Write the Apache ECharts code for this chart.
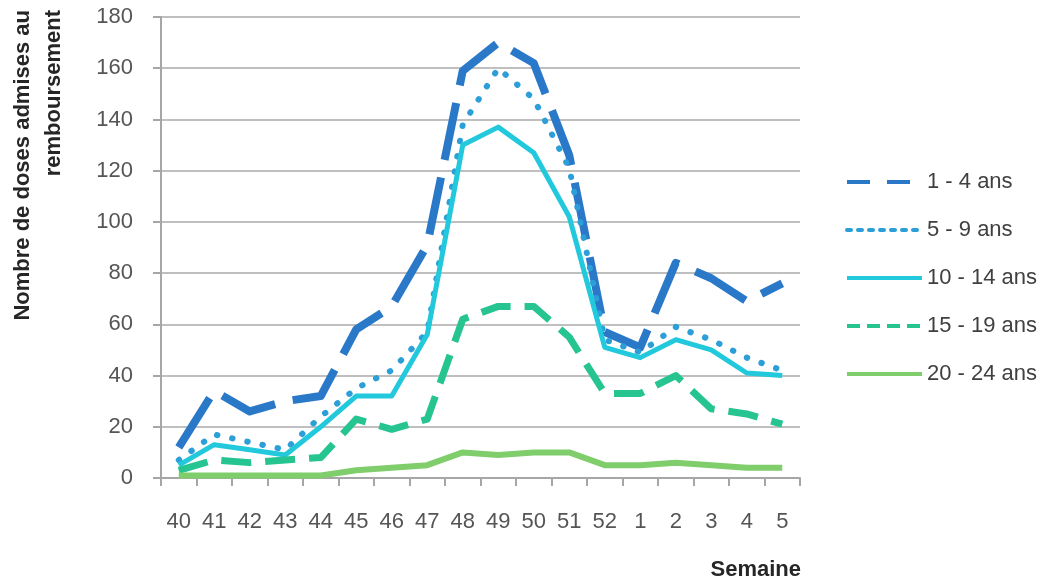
<!DOCTYPE html>
<html>
<head>
<meta charset="utf-8">
<script src="https://cdn.jsdelivr.net/npm/echarts@6/dist/echarts.min.js"></script>
<style>
html,body{margin:0;padding:0;background:#fff;}
#chart{width:1059px;height:584px;}
</style>
</head>
<body>
<div id="chart"></div>
<script>
var weeks = ['40','41','42','43','44','45','46','47','48','49','50','51','52','1','2','3','4','5'];
var seriesNames = ['1 - 4 ans','5 - 9 ans','10 - 14 ans','15 - 19 ans','20 - 24 ans'];
var ages1to4   = [12, 34, 26, 30, 32, 58, 67, 91, 159, 170, 162, 126, 57, 51, 84, 78, 69, 76];
var ages5to9   = [7, 17, 14, 11, 24, 35, 42, 57, 138, 160, 148, 121, 54, 49, 59, 54, 47, 42];
var ages10to14 = [5, 13, 11, 9, 20, 32, 32, 56, 130, 137, 127, 102, 51, 47, 54, 50, 41, 40];
var ages15to19 = [3, 7, 6, 7, 8, 23, 19, 23, 62, 67, 67, 55, 33, 33, 40, 27, 25, 21];
var ages20to24 = [1, 1, 1, 1, 1, 3, 4, 5, 10, 9, 10, 10, 5, 5, 6, 5, 4, 4];
var yTicks = [0, 20, 40, 60, 80, 100, 120, 140, 160, 180];
var yTitle = ['Nombre de doses admises au', 'remboursement'];
var xTitle = 'Semaine';

var FONT = 'Liberation Sans';
var colors = ['#2a78c8', '#2c9fd8', '#22c8dc', '#26c490', '#80cd6c'];
var values = [ages1to4, ages5to9, ages10to14, ages15to19, ages20to24];
var styles = [
  {width: 8, type: [58, 18], cap: 'butt'},
  {width: 6, type: [0.5, 15], cap: 'round'},
  {width: 5, type: 'solid', cap: 'butt'},
  {width: 7, type: [30, 14], cap: 'butt'},
  {width: 6, type: 'solid', cap: 'butt'}
];
var legendStyles = [
  {width: 4, type: [23, 17]},
  {width: 4, type: [4, 7]},
  {width: 4, type: 'solid'},
  {width: 4, type: [13, 7]},
  {width: 4, type: 'solid'}
];

var chart = echarts.init(document.getElementById('chart'), null, {renderer: 'canvas'});
var option = {
  backgroundColor: '#ffffff',
  animation: false,
  grid: {left: 161, right: 259, top: 17, bottom: 106, containLabel: false},
  xAxis: {
    type: 'category',
    data: weeks,
    boundaryGap: true,
    axisLine: {show: true, lineStyle: {color: '#a6a6a6', width: 2}},
    axisTick: {show: true, alignWithLabel: false, length: 8, lineStyle: {color: '#a6a6a6', width: 2}},
    axisLabel: {margin: 33, fontFamily: FONT, fontSize: 22, color: '#555555', interval: 0}
  },
  yAxis: {
    type: 'value',
    min: 0, max: 180, interval: 20,
    axisLine: {show: true, lineStyle: {color: '#a6a6a6', width: 2}},
    axisTick: {show: true, length: 8, lineStyle: {color: '#a6a6a6', width: 2}},
    axisLabel: {margin: 28, fontFamily: FONT, fontSize: 22, color: '#555555',
      formatter: function (v) { return yTicks.indexOf(v) >= 0 ? String(v) : ''; }},
    splitLine: {show: true, lineStyle: {color: '#bfbfbf', width: 2}}
  },
  legend: {
    orient: 'vertical',
    left: 845,
    top: 171,
    padding: 0,
    itemWidth: 75,
    itemHeight: 14,
    itemGap: 26,
    itemStyle: {opacity: 0, borderWidth: 0},
    textStyle: {fontFamily: FONT, fontSize: 22, color: '#404040'},
    data: seriesNames.map(function (n, i) {
      return {name: n, itemStyle: {opacity: 0, borderWidth: 0},
        lineStyle: {color: colors[i], width: legendStyles[i].width, type: legendStyles[i].type}};
    })
  },
  series: seriesNames.map(function (n, i) {
    return {
      name: n,
      type: 'line',
      data: values[i],
      symbol: 'none',
      smooth: false,
      color: colors[i],
      lineStyle: {color: colors[i], width: styles[i].width, type: styles[i].type, cap: styles[i].cap, join: 'round'}
    };
  }),
  graphic: [
    {type: 'text', x: 23, y: 10, rotation: Math.PI / 2,
      style: {text: yTitle[0], fontFamily: FONT, fontSize: 22, fontWeight: 'bold', fill: '#262626', align: 'right', verticalAlign: 'middle'}},
    {type: 'text', x: 54, y: 10, rotation: Math.PI / 2,
      style: {text: yTitle[1], fontFamily: FONT, fontSize: 22, fontWeight: 'bold', fill: '#262626', align: 'right', verticalAlign: 'middle'}},
    {type: 'text', x: 801, y: 570,
      style: {text: xTitle, fontFamily: FONT, fontSize: 22, fontWeight: 'bold', fill: '#262626', align: 'right', verticalAlign: 'middle'}}
  ]
};
chart.setOption(option);
</script>
</body>
</html>
